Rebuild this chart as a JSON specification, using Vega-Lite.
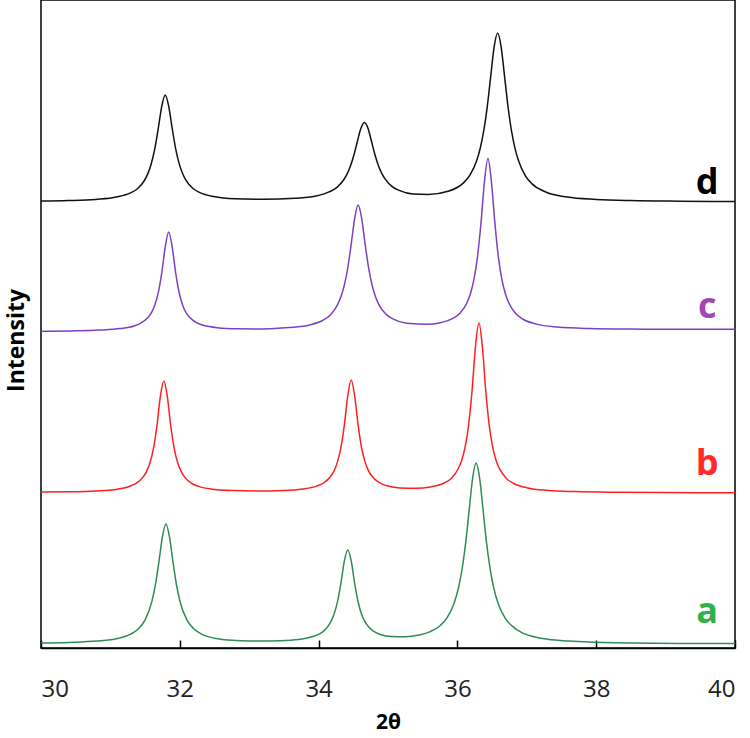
{
  "$schema": "https://vega.github.io/schema/vega-lite/v6.json",
  "width": 694,
  "height": 648,
  "autosize": {"type": "none"},
  "padding": {"left": 41, "top": 0, "right": 15, "bottom": 90},
  "background": "white",
  "config": {"view": {"stroke": "#000000", "strokeWidth": 1.5}, "axis": {"grid": false}},
  "datasets": {
    "xrd": [
      {"s":"a","x":30.0,"y":5.0},{"s":"a","x":30.4,"y":5.6},{"s":"a","x":30.8,"y":6.9},{"s":"a","x":31.1,"y":9.5},{"s":"a","x":31.3,"y":14.1},{"s":"a","x":31.4,"y":19.0},{"s":"a","x":31.5,"y":28.1},{"s":"a","x":31.6,"y":47.1},{"s":"a","x":31.65,"y":63.8},{"s":"a","x":31.7,"y":86.7},{"s":"a","x":31.75,"y":111.4},{"s":"a","x":31.8,"y":124.0},{"s":"a","x":31.85,"y":111.6},{"s":"a","x":31.9,"y":86.9},{"s":"a","x":31.95,"y":64.0},{"s":"a","x":32.0,"y":47.3},{"s":"a","x":32.1,"y":28.4},{"s":"a","x":32.2,"y":19.3},{"s":"a","x":32.3,"y":14.4},{"s":"a","x":32.5,"y":9.8},{"s":"a","x":32.8,"y":7.6},{"s":"a","x":33.0,"y":7.1},{"s":"a","x":33.3,"y":7.0},{"s":"a","x":33.6,"y":7.8},{"s":"a","x":33.8,"y":9.5},{"s":"a","x":33.95,"y":12.2},{"s":"a","x":34.05,"y":15.7},{"s":"a","x":34.15,"y":23.1},{"s":"a","x":34.22,"y":33.3},{"s":"a","x":34.27,"y":45.6},{"s":"a","x":34.32,"y":64.1},{"s":"a","x":34.37,"y":86.7},{"s":"a","x":34.42,"y":98.0},{"s":"a","x":34.47,"y":87.0},{"s":"a","x":34.52,"y":64.4},{"s":"a","x":34.57,"y":46.0},{"s":"a","x":34.62,"y":33.6},{"s":"a","x":34.69,"y":23.9},{"s":"a","x":34.79,"y":16.8},{"s":"a","x":34.89,"y":13.5},{"s":"a","x":35.05,"y":11.4},{"s":"a","x":35.25,"y":11.2},{"s":"a","x":35.45,"y":13.0},{"s":"a","x":35.6,"y":16.1},{"s":"a","x":35.75,"y":22.3},{"s":"a","x":35.85,"y":30.1},{"s":"a","x":35.95,"y":44.2},{"s":"a","x":36.02,"y":61.5},{"s":"a","x":36.07,"y":80.0},{"s":"a","x":36.12,"y":105.6},{"s":"a","x":36.17,"y":138.1},{"s":"a","x":36.22,"y":170.0},{"s":"a","x":36.27,"y":185.0},{"s":"a","x":36.32,"y":170.0},{"s":"a","x":36.37,"y":138.0},{"s":"a","x":36.42,"y":105.4},{"s":"a","x":36.47,"y":79.8},{"s":"a","x":36.52,"y":61.2},{"s":"a","x":36.59,"y":43.9},{"s":"a","x":36.69,"y":29.6},{"s":"a","x":36.79,"y":21.9},{"s":"a","x":36.94,"y":14.9},{"s":"a","x":37.1,"y":11.3},{"s":"a","x":37.3,"y":8.8},{"s":"a","x":37.6,"y":6.9},{"s":"a","x":38.0,"y":5.7},{"s":"a","x":38.5,"y":5.0},{"s":"a","x":39.2,"y":4.6},{"s":"a","x":40.0,"y":4.4},
      {"s":"b","x":30.0,"y":156.0},{"s":"b","x":30.4,"y":156.2},{"s":"b","x":30.8,"y":157.0},{"s":"b","x":31.07,"y":158.5},{"s":"b","x":31.27,"y":161.5},{"s":"b","x":31.37,"y":164.6},{"s":"b","x":31.47,"y":170.9},{"s":"b","x":31.52,"y":176.4},{"s":"b","x":31.57,"y":185.2},{"s":"b","x":31.62,"y":199.4},{"s":"b","x":31.67,"y":222.0},{"s":"b","x":31.72,"y":251.6},{"s":"b","x":31.77,"y":267.0},{"s":"b","x":31.82,"y":251.6},{"s":"b","x":31.87,"y":222.0},{"s":"b","x":31.92,"y":199.4},{"s":"b","x":31.97,"y":185.2},{"s":"b","x":32.02,"y":176.4},{"s":"b","x":32.07,"y":170.9},{"s":"b","x":32.17,"y":164.7},{"s":"b","x":32.27,"y":161.6},{"s":"b","x":32.47,"y":158.8},{"s":"b","x":32.77,"y":157.4},{"s":"b","x":33.1,"y":157.0},{"s":"b","x":33.5,"y":157.5},{"s":"b","x":33.77,"y":159.0},{"s":"b","x":33.97,"y":161.9},{"s":"b","x":34.07,"y":165.0},{"s":"b","x":34.17,"y":171.3},{"s":"b","x":34.22,"y":176.8},{"s":"b","x":34.27,"y":185.6},{"s":"b","x":34.32,"y":199.8},{"s":"b","x":34.37,"y":222.4},{"s":"b","x":34.42,"y":252.0},{"s":"b","x":34.47,"y":268.0},{"s":"b","x":34.52,"y":252.0},{"s":"b","x":34.57,"y":222.6},{"s":"b","x":34.62,"y":200.0},{"s":"b","x":34.67,"y":185.9},{"s":"b","x":34.72,"y":177.2},{"s":"b","x":34.77,"y":171.8},{"s":"b","x":34.87,"y":165.6},{"s":"b","x":34.97,"y":162.5},{"s":"b","x":35.17,"y":160.1},{"s":"b","x":35.4,"y":159.7},{"s":"b","x":35.61,"y":161.1},{"s":"b","x":35.81,"y":165.0},{"s":"b","x":35.91,"y":169.5},{"s":"b","x":36.01,"y":179.0},{"s":"b","x":36.06,"y":187.3},{"s":"b","x":36.11,"y":200.6},{"s":"b","x":36.16,"y":222.0},{"s":"b","x":36.21,"y":256.2},{"s":"b","x":36.26,"y":301.0},{"s":"b","x":36.31,"y":325.0},{"s":"b","x":36.36,"y":301.0},{"s":"b","x":36.41,"y":256.0},{"s":"b","x":36.46,"y":221.8},{"s":"b","x":36.51,"y":200.4},{"s":"b","x":36.56,"y":187.1},{"s":"b","x":36.61,"y":178.8},{"s":"b","x":36.71,"y":169.3},{"s":"b","x":36.81,"y":164.5},{"s":"b","x":37.01,"y":160.1},{"s":"b","x":37.31,"y":157.6},{"s":"b","x":37.7,"y":156.4},{"s":"b","x":38.3,"y":155.7},{"s":"b","x":39.0,"y":155.4},{"s":"b","x":40.0,"y":155.2},
      {"s":"c","x":30.0,"y":316.7},{"s":"c","x":30.44,"y":317.1},{"s":"c","x":30.84,"y":317.9},{"s":"c","x":31.14,"y":319.4},{"s":"c","x":31.34,"y":322.0},{"s":"c","x":31.44,"y":324.9},{"s":"c","x":31.54,"y":330.4},{"s":"c","x":31.59,"y":335.2},{"s":"c","x":31.64,"y":342.9},{"s":"c","x":31.69,"y":355.3},{"s":"c","x":31.74,"y":375.1},{"s":"c","x":31.79,"y":401.0},{"s":"c","x":31.84,"y":416.0},{"s":"c","x":31.89,"y":401.1},{"s":"c","x":31.94,"y":375.3},{"s":"c","x":31.99,"y":355.5},{"s":"c","x":32.04,"y":343.1},{"s":"c","x":32.09,"y":335.4},{"s":"c","x":32.14,"y":330.7},{"s":"c","x":32.24,"y":325.3},{"s":"c","x":32.34,"y":322.7},{"s":"c","x":32.54,"y":320.3},{"s":"c","x":32.84,"y":319.2},{"s":"c","x":33.2,"y":319.0},{"s":"c","x":33.57,"y":320.4},{"s":"c","x":33.87,"y":323.1},{"s":"c","x":34.07,"y":328.0},{"s":"c","x":34.17,"y":333.1},{"s":"c","x":34.27,"y":342.8},{"s":"c","x":34.32,"y":350.9},{"s":"c","x":34.37,"y":362.6},{"s":"c","x":34.42,"y":380.0},{"s":"c","x":34.47,"y":403.9},{"s":"c","x":34.52,"y":429.7},{"s":"c","x":34.57,"y":443.0},{"s":"c","x":34.62,"y":429.9},{"s":"c","x":34.67,"y":404.1},{"s":"c","x":34.72,"y":380.3},{"s":"c","x":34.77,"y":363.0},{"s":"c","x":34.82,"y":351.3},{"s":"c","x":34.87,"y":343.2},{"s":"c","x":34.97,"y":333.9},{"s":"c","x":35.07,"y":329.1},{"s":"c","x":35.27,"y":324.8},{"s":"c","x":35.57,"y":323.8},{"s":"c","x":35.74,"y":325.1},{"s":"c","x":35.94,"y":329.8},{"s":"c","x":36.04,"y":335.0},{"s":"c","x":36.14,"y":345.5},{"s":"c","x":36.19,"y":354.7},{"s":"c","x":36.24,"y":369.1},{"s":"c","x":36.29,"y":391.4},{"s":"c","x":36.34,"y":425.3},{"s":"c","x":36.39,"y":466.5},{"s":"c","x":36.44,"y":489.5},{"s":"c","x":36.49,"y":466.4},{"s":"c","x":36.54,"y":425.1},{"s":"c","x":36.59,"y":391.2},{"s":"c","x":36.64,"y":368.9},{"s":"c","x":36.69,"y":354.5},{"s":"c","x":36.74,"y":345.2},{"s":"c","x":36.84,"y":334.4},{"s":"c","x":36.94,"y":329.0},{"s":"c","x":37.14,"y":323.9},{"s":"c","x":37.44,"y":321.0},{"s":"c","x":37.9,"y":319.5},{"s":"c","x":38.5,"y":318.9},{"s":"c","x":39.2,"y":318.7},{"s":"c","x":40.0,"y":318.8},
      {"s":"d","x":30.0,"y":446.9},{"s":"d","x":30.39,"y":447.4},{"s":"d","x":30.79,"y":448.6},{"s":"d","x":31.09,"y":451.0},{"s":"d","x":31.29,"y":455.1},{"s":"d","x":31.39,"y":459.3},{"s":"d","x":31.49,"y":467.5},{"s":"d","x":31.54,"y":474.4},{"s":"d","x":31.59,"y":484.5},{"s":"d","x":31.64,"y":499.3},{"s":"d","x":31.69,"y":519.7},{"s":"d","x":31.74,"y":541.7},{"s":"d","x":31.79,"y":553.0},{"s":"d","x":31.84,"y":541.8},{"s":"d","x":31.89,"y":519.8},{"s":"d","x":31.94,"y":499.4},{"s":"d","x":31.99,"y":484.6},{"s":"d","x":32.04,"y":474.5},{"s":"d","x":32.09,"y":467.6},{"s":"d","x":32.19,"y":459.5},{"s":"d","x":32.29,"y":455.4},{"s":"d","x":32.49,"y":451.4},{"s":"d","x":32.79,"y":449.2},{"s":"d","x":33.2,"y":448.7},{"s":"d","x":33.66,"y":449.7},{"s":"d","x":33.96,"y":452.0},{"s":"d","x":34.16,"y":456.3},{"s":"d","x":34.26,"y":460.4},{"s":"d","x":34.36,"y":468.0},{"s":"d","x":34.41,"y":473.9},{"s":"d","x":34.46,"y":482.2},{"s":"d","x":34.51,"y":493.3},{"s":"d","x":34.56,"y":507.0},{"s":"d","x":34.61,"y":519.8},{"s":"d","x":34.66,"y":525.5},{"s":"d","x":34.71,"y":520.0},{"s":"d","x":34.76,"y":507.3},{"s":"d","x":34.81,"y":493.8},{"s":"d","x":34.86,"y":482.8},{"s":"d","x":34.91,"y":474.6},{"s":"d","x":34.96,"y":468.8},{"s":"d","x":35.06,"y":461.3},{"s":"d","x":35.16,"y":457.6},{"s":"d","x":35.36,"y":454.0},{"s":"d","x":35.58,"y":453.6},{"s":"d","x":35.88,"y":457.0},{"s":"d","x":36.08,"y":464.6},{"s":"d","x":36.18,"y":472.8},{"s":"d","x":36.28,"y":487.8},{"s":"d","x":36.33,"y":500.0},{"s":"d","x":36.38,"y":517.3},{"s":"d","x":36.43,"y":541.2},{"s":"d","x":36.48,"y":571.6},{"s":"d","x":36.53,"y":601.3},{"s":"d","x":36.58,"y":615.0},{"s":"d","x":36.63,"y":601.2},{"s":"d","x":36.68,"y":571.4},{"s":"d","x":36.73,"y":541.0},{"s":"d","x":36.78,"y":517.0},{"s":"d","x":36.83,"y":499.7},{"s":"d","x":36.88,"y":487.5},{"s":"d","x":36.98,"y":472.2},{"s":"d","x":37.08,"y":463.9},{"s":"d","x":37.28,"y":455.8},{"s":"d","x":37.58,"y":451.0},{"s":"d","x":38.0,"y":448.6},{"s":"d","x":38.5,"y":447.4},{"s":"d","x":39.2,"y":446.8},{"s":"d","x":40.0,"y":446.5}
    ],
    "labels": [
      {"label": "a", "x": 39.6, "y": 25},
      {"label": "b", "x": 39.6, "y": 173},
      {"label": "c", "x": 39.6, "y": 330},
      {"label": "d", "x": 39.6, "y": 454}
    ]
  },
  "layer": [
    {
      "data": {"name": "xrd"},
      "mark": {"type": "line", "strokeWidth": 1.5, "interpolate": "monotone"},
      "encoding": {
        "x": {
          "field": "x", "type": "quantitative",
          "scale": {"domain": [30, 40], "nice": false, "zero": false},
          "axis": {
            "values": [30, 32, 34, 36, 38, 40], "format": "d",
            "tickSize": -8, "tickColor": "#000000", "tickWidth": 1.5,
            "domainColor": "#000000", "domainWidth": 1.5,
            "labelFont": "Open Sans", "labelFontSize": 24, "labelColor": "#222222",
            "labelPadding": 37,
            "title": "2θ", "titleFont": "Open Sans", "titleFontSize": 21,
            "titleFontWeight": "bold", "titleColor": "#000000", "titlePadding": 10
          }
        },
        "y": {
          "field": "y", "type": "quantitative",
          "scale": {"domain": [0, 648], "nice": false},
          "axis": {
            "ticks": false, "labels": false, "domain": false,
            "title": "Intensity", "titleFont": "Open Sans", "titleFontSize": 23,
            "titleFontWeight": "bold", "titleColor": "#000000", "titlePadding": 13,
            "titleY": 340
          }
        },
        "color": {
          "field": "s", "type": "nominal",
          "scale": {"domain": ["a", "b", "c", "d"], "range": ["#2E8B57", "#FF1F1F", "#7E3FC0", "#111111"]},
          "legend": null
        }
      }
    },
    {
      "data": {"name": "labels"},
      "mark": {"type": "text", "font": "Open Sans", "fontSize": 36, "fontWeight": "bold", "align": "center", "baseline": "alphabetic"},
      "encoding": {
        "x": {"field": "x", "type": "quantitative"},
        "y": {"field": "y", "type": "quantitative"},
        "text": {"field": "label"},
        "color": {
          "field": "label", "type": "nominal",
          "scale": {"domain": ["a", "b", "c", "d"], "range": ["#2DB34A", "#FF2A2A", "#A347B5", "#000000"]},
          "legend": null
        }
      }
    }
  ],
  "resolve": {"scale": {"color": "independent"}}
}
